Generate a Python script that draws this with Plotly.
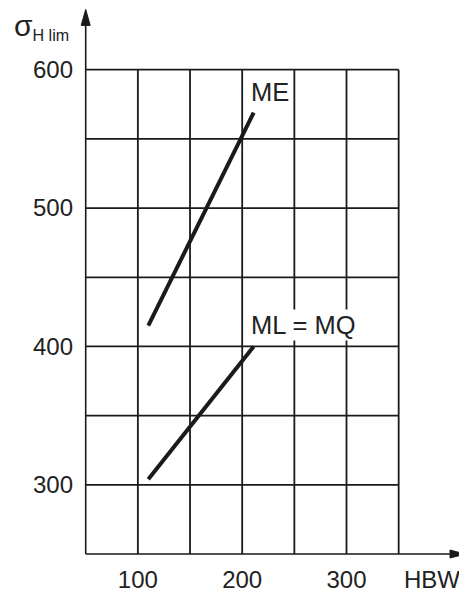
import plotly.graph_objects as go

# Data
hbw_me = [110, 211]
sigma_me = [415, 569]
hbw_ml = [110, 211]
sigma_ml = [304, 400]
x_ticks = [100, 200, 300]
y_ticks = [300, 400, 500, 600]
x_grid = [50, 100, 150, 200, 250, 300, 350]
y_grid = [250, 300, 350, 400, 450, 500, 550, 600]

X_MIN, X_MAX = 50, 350
Y_MIN, Y_MAX = 250, 600
X_ARROW, Y_ARROW = 413.6, 643.6

INK = "#1a1a1a"
TXT = "#222"
FONT = "Liberation Sans, Arial, sans-serif"

fig = go.Figure()

shapes = []
for gx in x_grid[1:]:
    shapes.append(dict(type="line", xref="x", yref="y", x0=gx, x1=gx, y0=Y_MIN, y1=Y_MAX,
                       line=dict(color=INK, width=1.8), layer="below"))
for gy in y_grid[1:]:
    shapes.append(dict(type="line", xref="x", yref="y", x0=X_MIN, x1=X_MAX, y0=gy, y1=gy,
                       line=dict(color=INK, width=1.8), layer="below"))
# axes
shapes.append(dict(type="line", xref="x", yref="y", x0=X_MIN, x1=X_ARROW - 5, y0=Y_MIN, y1=Y_MIN,
                   line=dict(color=INK, width=1.6)))
shapes.append(dict(type="line", xref="x", yref="y", x0=X_MIN, x1=X_MIN, y0=Y_MIN, y1=Y_ARROW - 5,
                   line=dict(color=INK, width=1.6)))
# arrowheads
shapes.append(dict(type="path", xref="x", yref="y", xsizemode="pixel", ysizemode="pixel",
                   xanchor=X_ARROW, yanchor=Y_MIN, path="M 0 0 L -15 4 L -15 -4 Z",
                   fillcolor=INK, line=dict(color=INK, width=1)))
shapes.append(dict(type="path", xref="x", yref="y", xsizemode="pixel", ysizemode="pixel",
                   xanchor=X_MIN, yanchor=Y_ARROW, path="M 0 0 L -4.5 -16 L 4.5 -16 Z",
                   fillcolor=INK, line=dict(color=INK, width=1)))

fig.add_trace(go.Scatter(x=hbw_me, y=sigma_me, mode="lines",
                         line=dict(color=INK, width=4), showlegend=False, hoverinfo="skip"))
fig.add_trace(go.Scatter(x=hbw_ml, y=sigma_ml, mode="lines",
                         line=dict(color=INK, width=4), showlegend=False, hoverinfo="skip"))

annotations = [
    dict(text="ME", x=206.5, y=584, xref="x", yref="y", xanchor="left", yanchor="middle",
         showarrow=False, bgcolor="white", borderpad=1, font=dict(size=25.5, color=TXT, family=FONT)),
    dict(text="ML = MQ", x=206.5, y=415.5, xref="x", yref="y", xanchor="left", yanchor="middle",
         showarrow=False, bgcolor="white", borderpad=1, font=dict(size=25.5, color=TXT, family=FONT)),
    dict(text="HBW", x=381.9, y=-0.027, xref="x", yref="paper", xanchor="center", yanchor="middle",
         showarrow=False, font=dict(size=24, color=TXT, family=FONT)),
    dict(text="<span style='font-size:30px'>σ</span><sub>H lim</sub>", x=-0.0136, y=0.9676,
         xref="paper", yref="paper", xanchor="right", yanchor="middle", showarrow=False,
         font=dict(size=23, color=TXT, family=FONT)),
]

fig.update_layout(
    width=459, height=588,
    margin=dict(l=68, r=0, t=0, b=32, autoexpand=False),
    paper_bgcolor="white", plot_bgcolor="white",
    shapes=shapes, annotations=annotations,
    xaxis=dict(range=[40.7, 415.5], tickvals=x_ticks, showgrid=False, zeroline=False,
               showline=False, ticks="", automargin=False, ticklabelstandoff=-1,
               tickfont=dict(size=24, color=TXT, family=FONT)),
    yaxis=dict(range=[242.8, 644.6], tickvals=y_ticks, showgrid=False, zeroline=False,
               showline=False, ticks="", automargin=False, ticklabelstandoff=2,
               tickfont=dict(size=24, color=TXT, family=FONT)),
)

fig.write_html("out.html")
